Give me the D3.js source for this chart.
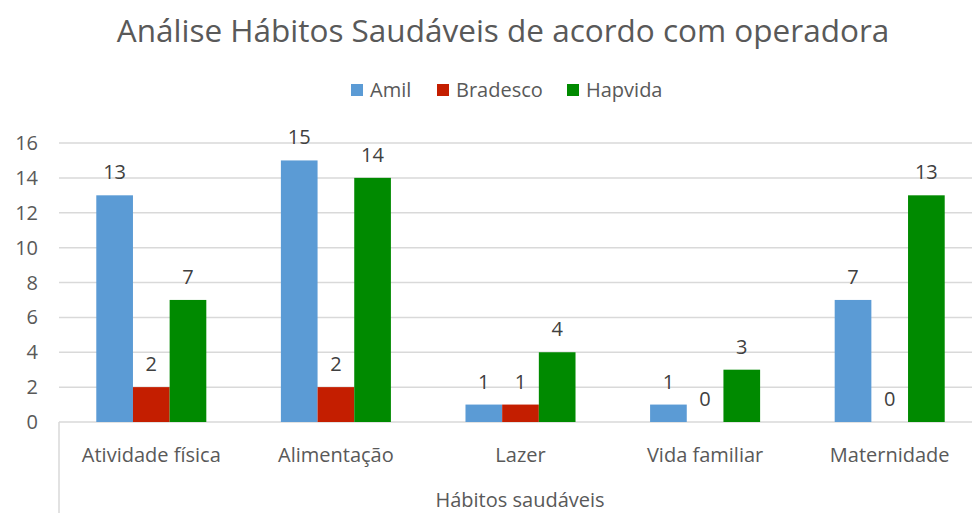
<!DOCTYPE html>
<html>
<head>
<meta charset="utf-8">
<script src="https://cdn.jsdelivr.net/npm/d3@7"></script>
<style>
  body { margin: 0; background: #fff; }
  text { font-family: "Open Sans", "Noto Sans", sans-serif; }
</style>
</head>
<body>
<div id="chart"></div>
<script>
// Data
var categories = ["Atividade física", "Alimentação", "Lazer", "Vida familiar", "Maternidade"];
var seriesNames = ["Amil", "Bradesco", "Hapvida"];
var amil = [13, 15, 1, 1, 7];
var bradesco = [2, 2, 1, 0, 0];
var hapvida = [7, 14, 4, 3, 13];
var yTicks = [0, 2, 4, 6, 8, 10, 12, 14, 16];
var colors = ["#5b9bd5", "#c41e00", "#008a00"];

var values = [amil, bradesco, hapvida];
var rows = categories.map(function(c, i) {
  return { cat: c, vals: values.map(function(s) { return s[i]; }) };
});

var W = 972, H = 513;
var plotLeft = 59, plotRight = 982, plotTop = 143, plotBottom = 422;

var svg = d3.select("#chart")
  .append("svg")
    .attr("width", W)
    .attr("height", H);

// Scales
var x0 = d3.scaleBand()
  .domain(categories)
  .range([plotLeft, plotRight])
  .paddingInner(0.404)
  .paddingOuter(0.202);

var x1 = d3.scaleBand()
  .domain(seriesNames)
  .range([0, x0.bandwidth()]);

var y = d3.scaleLinear()
  .domain([0, 16])
  .range([plotBottom, plotTop]);

// Gridlines
svg.append("g")
  .selectAll("line")
  .data(yTicks)
  .enter()
  .append("line")
    .attr("x1", plotLeft)
    .attr("x2", W)
    .attr("y1", function(d) { return y(d); })
    .attr("y2", function(d) { return y(d); })
    .style("stroke", "#d9d9d9")
    .style("stroke-width", 1.5);

// Y tick labels
svg.append("g")
  .selectAll("text")
  .data(yTicks)
  .enter()
  .append("text")
    .attr("x", 38)
    .attr("y", function(d) { return y(d); })
    .attr("dy", "0.35em")
    .attr("text-anchor", "end")
    .style("font-size", "20px")
    .style("fill", "#595959")
    .text(function(d) { return d; });

// Bars
var groups = svg.append("g")
  .selectAll("g")
  .data(rows)
  .enter()
  .append("g")
    .attr("transform", function(d) { return "translate(" + x0(d.cat) + ",0)"; });

groups.selectAll("rect")
  .data(function(d) { return d.vals.map(function(v, i) { return { key: seriesNames[i], v: v, i: i }; }); })
  .enter()
  .append("rect")
    .attr("x", function(d) { return x1(d.key); })
    .attr("y", function(d) { return y(d.v); })
    .attr("width", x1.bandwidth())
    .attr("height", function(d) { return plotBottom - y(d.v); })
    .style("fill", function(d) { return colors[d.i]; });

// Data labels
groups.selectAll("text")
  .data(function(d) { return d.vals.map(function(v, i) { return { key: seriesNames[i], v: v }; }); })
  .enter()
  .append("text")
    .attr("x", function(d) { return x1(d.key) + x1.bandwidth() / 2; })
    .attr("y", function(d) { return y(d.v) - 16; })
    .attr("text-anchor", "middle")
    .style("font-size", "20px")
    .style("fill", "#404040")
    .text(function(d) { return d.v; });

// Category axis
svg.append("line")
  .attr("x1", plotLeft).attr("x2", plotLeft)
  .attr("y1", plotBottom).attr("y2", H)
  .style("stroke", "#d9d9d9")
  .style("stroke-width", 1.5);

svg.append("g")
  .selectAll("text")
  .data(categories)
  .enter()
  .append("text")
    .attr("x", function(d) { return x0(d) + x0.bandwidth() / 2; })
    .attr("y", 462)
    .attr("text-anchor", "middle")
    .style("font-size", "20px")
    .style("fill", "#595959")
    .text(function(d) { return d; });

// Axis title
svg.append("text")
  .attr("x", 520)
  .attr("y", 507)
  .attr("text-anchor", "middle")
  .style("font-size", "20px")
  .style("fill", "#595959")
  .text("Hábitos saudáveis");

// Chart title
svg.append("text")
  .attr("x", 503)
  .attr("y", 42)
  .attr("text-anchor", "middle")
  .style("font-size", "31.5px")
  .style("fill", "#595959")
  .text("Análise Hábitos Saudáveis de acordo com operadora");

// Legend
var legendX = [351, 437, 567];
var legend = svg.append("g")
  .selectAll("g")
  .data(seriesNames)
  .enter()
  .append("g")
    .attr("transform", function(d, i) { return "translate(" + legendX[i] + ",84)"; });

legend.append("rect")
  .attr("width", 12)
  .attr("height", 12)
  .style("fill", function(d, i) { return colors[i]; });

legend.append("text")
  .attr("x", 19)
  .attr("y", 6)
  .attr("dy", "0.35em")
  .style("font-size", "20px")
  .style("fill", "#595959")
  .text(function(d) { return d; });
</script>
</body>
</html>
